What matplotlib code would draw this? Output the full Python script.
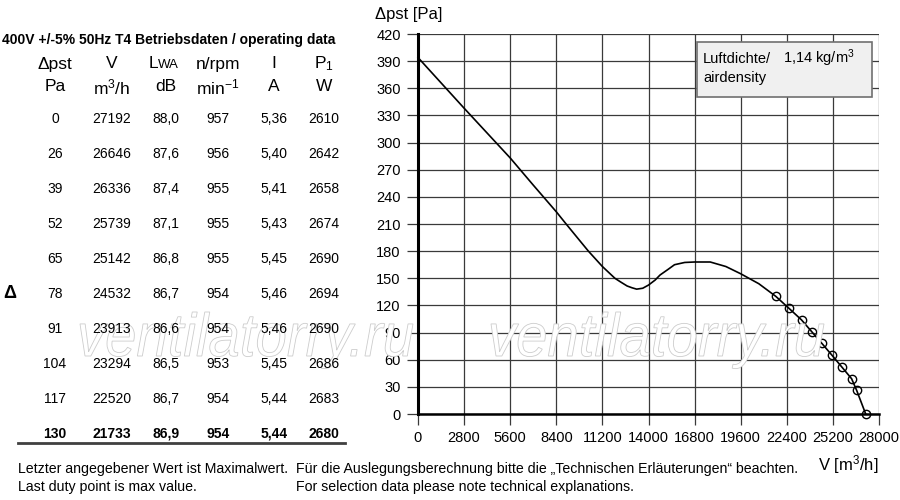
import numpy as np
import matplotlib
matplotlib.use("Agg")
import matplotlib.pyplot as plt
from matplotlib.patches import Rectangle, PathPatch
from matplotlib.textpath import TextPath
from matplotlib.font_manager import FontProperties
from matplotlib.transforms import Affine2D

#----------------------------------------------------
# Data
#----------------------------------------------------
# duty points (table)
pressures = [0, 26, 39, 52, 65, 78, 91, 104, 117, 130]
flows = [27192, 26646, 26336, 25739, 25142, 24532, 23913, 23294, 22520, 21733]
sound_lwa = [88.0, 87.6, 87.4, 87.1, 86.8, 86.7, 86.6, 86.5, 86.7, 86.9]
speeds = [957, 956, 955, 955, 955, 954, 954, 953, 954, 954]
currents = [5.36, 5.40, 5.41, 5.43, 5.45, 5.46, 5.46, 5.45, 5.44, 5.44]
powers = [2610, 2642, 2658, 2674, 2690, 2694, 2690, 2686, 2683, 2680]

# fan curve, up to the first duty point
curve_v = [0, 2800, 5600, 7000, 8400, 8930, 9650, 10350, 11200, 11960,
           12300, 12700, 13000, 13280, 13650, 14000, 14400, 14700, 15200,
           15580, 16200, 16800, 17750, 18700, 19600, 20700]
curve_p = [394, 338, 283, 253, 223.5, 211.5, 195.5, 180, 163, 150,
           146, 141.5, 139.5, 138, 139, 142.5, 148, 153.6, 160,
           165, 167.5, 168, 168, 163, 155, 144]

x_ticks = list(range(0, 28001, 2800))
y_ticks = list(range(0, 421, 30))

#----------------------------------------------------
# Style
#----------------------------------------------------
plt.rcParams["font.family"] = ["Liberation Sans", "DejaVu Sans"]
plt.rcParams["mathtext.fontset"] = "custom"
plt.rcParams["mathtext.rm"] = "Liberation Sans"
plt.rcParams["mathtext.it"] = "Liberation Sans:italic"
plt.rcParams["mathtext.bf"] = "Liberation Sans:bold"

W, H = 900, 500
fig = plt.figure(figsize=(9, 5), dpi=100)


def fx(px):
    return px / W


def fy(py):
    return 1 - py / H


grid_col = "#3a3a3a"

ax = fig.add_axes([fx(418), fy(414), fx(879) - fx(418), fy(34) - fy(414)])
ax.set_xlim(0, 28000)
ax.set_ylim(0, 420)
ax.set_xticks(x_ticks)
ax.set_yticks(y_ticks)
ax.grid(True, color=grid_col, lw=0.9)
ax.tick_params(length=8, width=0.9, color=grid_col, labelsize=10.5, pad=4.5)
for s in ["top", "right"]:
    ax.spines[s].set_visible(False)
ax.spines["left"].set_linewidth(2.2)
ax.spines["bottom"].set_linewidth(1.8)
ax.set_axisbelow(True)

# curve and duty points
v_all = curve_v + flows[::-1]
p_all = curve_p + pressures[::-1]
ax.plot(v_all, p_all, color="black", lw=1.2, zorder=3, clip_on=False)
ax.plot(flows, pressures, "o", mfc="none", mec="black", ms=6, mew=1.0,
        zorder=4, clip_on=False)

fig.text(fx(375), fy(14), "Δpst [Pa]", fontsize=12, ha="left", va="center")
fig.text(fx(818), fy(465), r"V [m$^3$/h]", fontsize=12, ha="left", va="center")

# air density box
ax.add_patch(Rectangle((fx(697), fy(97)), fx(872) - fx(697), fy(42) - fy(97),
                       transform=fig.transFigure, facecolor="#f0f0f0",
                       edgecolor="#707070", lw=1.2, zorder=5, clip_on=False))
fig.text(fx(703), fy(59), "Luftdichte/", fontsize=10.5, va="center")
fig.text(fx(783), fy(58), r"1,14 kg/m$^3$", fontsize=10.5, va="center")
fig.text(fx(703), fy(78), "airdensity", fontsize=10.5, va="center")

#----------------------------------------------------
# Table
#----------------------------------------------------
fig.text(fx(2), fy(40), "400V +/-5% 50Hz T4 Betriebsdaten / operating data",
         fontsize=10, fontweight="bold", va="center")

col_x = [55, 112, 166, 218, 274, 324]
hdr1 = ["Δpst", "V", None, "n/rpm", "I", r"P$_1$"]
hdr2 = ["Pa", r"m$^3$/h", "dB", r"min$^{-1}$", "A", "W"]
for x, h in zip(col_x, hdr1):
    if h is not None:
        fig.text(fx(x), fy(64), h, fontsize=12.5, ha="center", va="center")
fig.text(fx(158), fy(64), "L", fontsize=12.5, ha="right", va="center")
fig.text(fx(158), fy(65.5), "WA", fontsize=9.5, ha="left", va="center")
for x, h in zip(col_x, hdr2):
    fig.text(fx(x), fy(87), h, fontsize=12.5, ha="center", va="center")

row_y0, row_dy = 119, 35
for i in range(len(pressures)):
    cells = [str(pressures[i]), str(flows[i]),
             f"{sound_lwa[i]:.1f}".replace(".", ","), str(speeds[i]),
             f"{currents[i]:.2f}".replace(".", ","), str(powers[i])]
    weight = "bold" if i == len(pressures) - 1 else "normal"
    for x, c in zip(col_x, cells):
        fig.text(fx(x), fy(row_y0 + i * row_dy), c, fontsize=10,
                 ha="center", va="center", fontweight=weight)

fig.text(fx(10), fy(294), "Δ", fontsize=13, fontweight="bold",
         ha="center", va="center")
fig.add_artist(plt.Line2D([fx(18), fx(345)], [fy(443), fy(443)],
                          color="#404040", lw=2))

fig.text(fx(18), fy(469), "Letzter angegebener Wert ist Maximalwert.",
         fontsize=10.2, va="center")
fig.text(fx(18), fy(487), "Last duty point is max value.",
         fontsize=10.2, va="center")
fig.text(fx(296), fy(469),
         "Für die Auslegungsberechnung bitte die „Technischen Erläuterungen“ beachten.",
         fontsize=10.2, va="center")
fig.text(fx(296), fy(487), "For selection data please note technical explanations.",
         fontsize=10.2, va="center")

#----------------------------------------------------
# Watermarks
#----------------------------------------------------
wm_prop = FontProperties(family="Liberation Sans", style="italic")
tp = TextPath((0, 0), "ventilatorry.ru", size=50, prop=wm_prop)
ext = tp.get_extents()
to_fig = Affine2D().scale(1 / W, 1 / H) + fig.transFigure
for left in [80, 491]:
    sx = 333 / ext.width
    sy = 44 / (ext.y1 - 0)
    tr = (Affine2D().translate(-ext.x0, 0).scale(sx, sy)
          .translate(left, H - 356)) + to_fig
    fig.add_artist(PathPatch(tp, transform=tr, facecolor="white",
                             edgecolor="#cccccc", lw=0.6, zorder=1))

fig.savefig("out.png", dpi=100)
